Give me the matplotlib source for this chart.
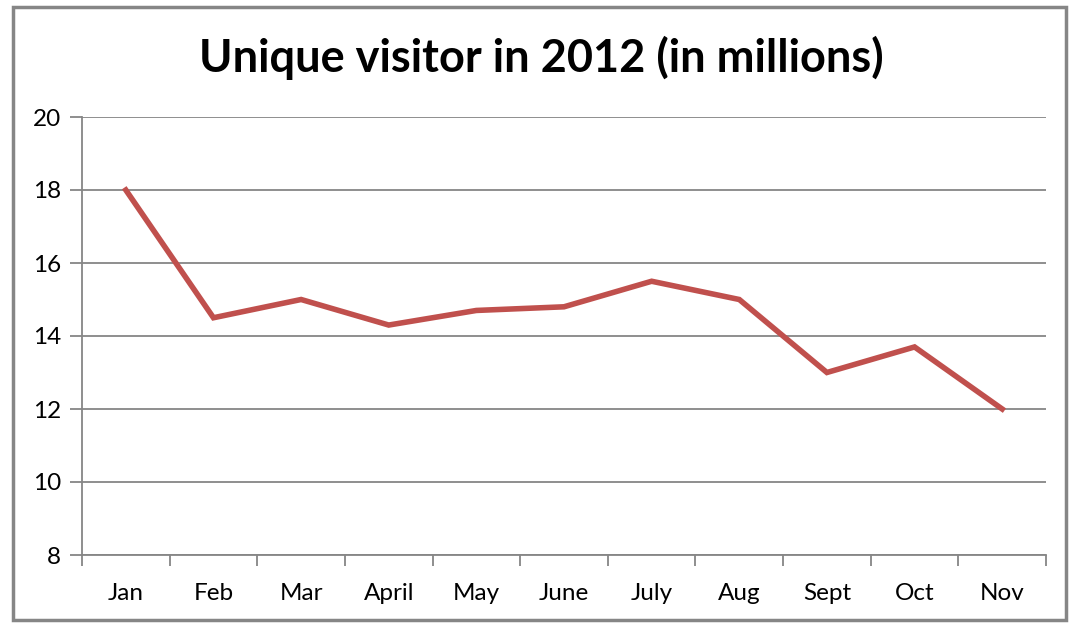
import matplotlib.pyplot as plt
from matplotlib.patches import Rectangle

months = ["Jan", "Feb", "Mar", "April", "May", "June", "July", "Aug", "Sept", "Oct", "Nov"]
visitors = [18, 14.5, 15, 14.3, 14.7, 14.8, 15.5, 15, 13, 13.7, 12]
y_ticks = [8, 10, 12, 14, 16, 18, 20]

plt.rcParams['font.family'] = ['Lato', 'DejaVu Sans']

fig = plt.figure(figsize=(10.71, 6.23), dpi=100)
ax = fig.add_axes([82 / 1071, 1 - 555 / 623, (1046 - 82) / 1071, (555 - 117) / 623])

# outer chart frame
fig.patches.append(Rectangle((13 / 1071, 1 - 620 / 623), (1066 - 13) / 1071, (620 - 7) / 623,
                             transform=fig.transFigure, fill=False, edgecolor='#868686', linewidth=2.5))

x = list(range(len(months)))
ax.plot(x, visitors, color='#C0504D', linewidth=4.0, solid_joinstyle='miter', zorder=3)

ax.set_xlim(-0.5, len(months) - 0.5)
ax.set_ylim(8, 20)
ax.set_yticks(y_ticks)
ax.set_yticklabels([str(v) for v in y_ticks], fontsize=17.5)
ax.set_xticks(x)
ax.set_xticklabels(months, fontsize=17.5)
ax.set_xticks([i - 0.5 for i in range(len(months) + 1)], minor=True)

ax.grid(axis='y', color='#868686', linewidth=1.3)
ax.set_axisbelow(True)
for side in ['top', 'right']:
    ax.spines[side].set_visible(False)
for side in ['left', 'bottom']:
    ax.spines[side].set_color('#868686')
    ax.spines[side].set_linewidth(1.3)

ax.tick_params(axis='y', length=9, width=1.3, color='#868686', pad=6)
ax.tick_params(axis='x', which='major', length=0, pad=20)
ax.tick_params(axis='x', which='minor', length=8, width=1.3, color='#868686')

fig.text(541 / 1071, 1 - 58 / 623, "Unique visitor in 2012 (in millions)", ha='center', va='center',
         fontsize=32.5, fontweight='bold')

fig.savefig("out.png", dpi=100)
